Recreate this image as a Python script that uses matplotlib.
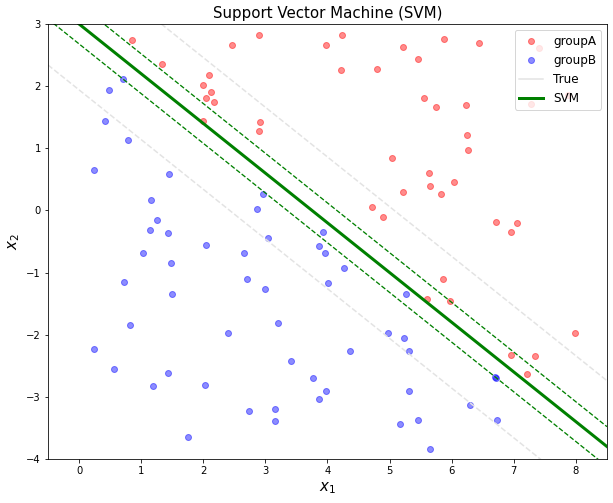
import matplotlib
matplotlib.use("Agg")
import matplotlib.pyplot as plt
import numpy as np

# groupA (red) points
groupA_x1 = [0.85, 1.33, 2.46, 2.89, 3.97, 2.10, 1.99, 2.12, 2.04, 2.17, 1.99, 2.92, 2.89,
             4.24, 5.22, 5.88, 6.44, 4.22, 4.80, 5.46, 7.41, 5.56, 5.75, 6.23, 7.27, 7.88,
             6.25, 6.26, 5.04, 5.64, 5.65, 6.03, 5.83, 5.21, 4.72, 4.90, 6.71, 7.05, 6.95,
             5.86, 5.60, 5.98, 7.98, 6.96, 7.34, 7.21]
groupA_x2 = [2.74, 2.35, 2.66, 2.82, 2.66, 2.18, 2.02, 1.91, 1.81, 1.75, 1.44, 1.42, 1.28,
             2.82, 2.63, 2.76, 2.69, 2.26, 2.27, 2.44, 2.61, 1.81, 1.66, 1.69, 1.71, 1.86,
             1.21, 0.98, 0.85, 0.61, 0.39, 0.45, 0.27, 0.29, 0.05, -0.10, -0.19, -0.21, -0.35,
             -1.11, -1.43, -1.46, -1.98, -2.32, -2.35, -2.63]

# groupB (blue) points
groupB_x1 = [0.71, 0.48, 0.42, 0.79, 0.24, 1.45, 1.16, 2.96, 2.86, 1.25, 1.14, 1.43, 2.04,
             3.04, 1.03, 2.65, 1.48, 3.92, 3.87, 3.96, 4.27, 4.01, 0.72, 2.70, 3.00, 1.49,
             5.27, 0.82, 3.20, 2.39, 4.98, 5.23, 5.31, 4.37, 0.24, 3.42, 0.56, 1.43, 3.76,
             1.19, 2.02, 3.98, 3.87, 5.31, 6.29, 2.74, 3.16, 3.16, 5.17, 5.45, 6.73, 5.65,
             1.75, 6.70, 6.71]
groupB_x2 = [2.11, 1.94, 1.44, 1.13, 0.65, 0.58, 0.17, 0.26, 0.02, -0.16, -0.31, -0.37, -0.55,
             -0.44, -0.69, -0.68, -0.84, -0.35, -0.58, -0.69, -0.92, -1.16, -1.15, -1.11, -1.27, -1.34,
             -1.35, -1.85, -1.81, -1.97, -1.98, -2.05, -2.27, -2.27, -2.23, -2.42, -2.55, -2.61, -2.69,
             -2.82, -2.81, -2.90, -3.03, -2.90, -3.13, -3.23, -3.19, -3.39, -3.44, -3.37, -3.37, -3.84,
             -3.65, -2.68, -2.69]

# lines x2 = b - slope * x1
slope = 0.8
true_b = 3.0
true_margin = 1.06
svm_b = 3.0
svm_margin = 0.32

xx = np.linspace(-0.5, 8.5, 50)

fig = plt.figure(figsize=(613 / 72, 503 / 72), dpi=72)
ax = fig.add_axes([48 / 613, 44 / 503, 559 / 613, 435 / 503])

ax.plot(groupA_x1, groupA_x2, 'o', color='red', alpha=0.45, markersize=6, label='groupA')
ax.plot(groupB_x1, groupB_x2, 'o', color='blue', alpha=0.45, markersize=6, label='groupB')

ax.plot(xx, true_b - slope * xx, color='#e3e3e3', lw=1.5, label='True')
ax.plot(xx, true_b + true_margin - slope * xx, '--', color='#e3e3e3', lw=1.5)
ax.plot(xx, true_b - true_margin - slope * xx, '--', color='#e3e3e3', lw=1.5)

ax.plot(xx, svm_b - slope * xx, color='green', lw=3, label='SVM')
ax.plot(xx, svm_b + svm_margin - slope * xx, '--', color='green', lw=1.3)
ax.plot(xx, svm_b - svm_margin - slope * xx, '--', color='green', lw=1.3)

ax.set_xlim(-0.5, 8.5)
ax.set_ylim(-4, 3)
ax.set_title('Support Vector Machine (SVM)', fontsize=15)
ax.set_xlabel('$x_1$', fontsize=15)
ax.set_ylabel('$x_2$', fontsize=15)
ax.legend(loc='upper right', fontsize=12)

fig.savefig('out.png', dpi=72)
